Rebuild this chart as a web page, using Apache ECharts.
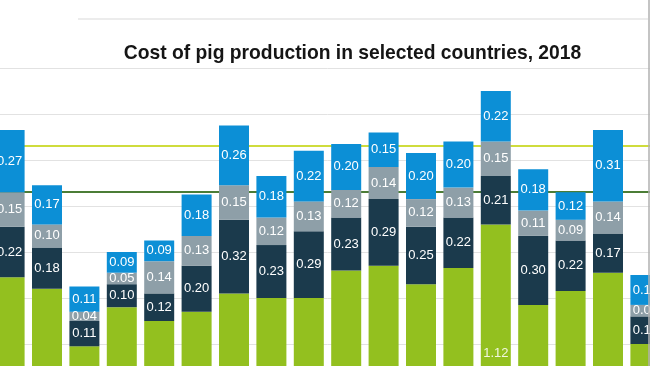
<!DOCTYPE html>
<html><head><meta charset="utf-8">
<script src="https://cdn.jsdelivr.net/npm/echarts@6/dist/echarts.min.js"></script>
<style>
html,body{margin:0;padding:0;width:650px;height:366px;overflow:hidden;background:#fff}
#c{position:absolute;left:-45px;top:0;width:795px;height:560px}
</style>
</head><body><div id="c"></div>
<script>
const categories = ['C01','C02','C03','C04','C05','C06','C07','C08','C09','C10','C11','C12','C13','C14','C15','C16','C17','C18'];
const feedCost = [0.89,0.84,0.59,0.76,0.70,0.74,0.82,0.80,0.80,0.92,0.94,0.86,0.93,1.12,0.77,0.83,0.91,0.60];
const costB    = [0.22,0.18,0.11,0.10,0.12,0.20,0.32,0.23,0.29,0.23,0.29,0.25,0.22,0.21,0.30,0.22,0.17,0.12];
const costC    = [0.15,0.10,0.04,0.05,0.14,0.13,0.15,0.12,0.13,0.12,0.14,0.12,0.13,0.15,0.11,0.09,0.14,0.05];
const costD    = [0.27,0.17,0.11,0.09,0.09,0.18,0.26,0.18,0.22,0.20,0.15,0.20,0.20,0.22,0.18,0.12,0.31,0.13];
const refLevels = [1.46, 1.26];
const yTicks = [0,0.2,0.4,0.6,0.8,1.0,1.2,1.4,1.6,1.8];

const OFFX = -45;
const chart = echarts.init(document.getElementById('c'), null, {renderer:'canvas'});
const font = '"Liberation Sans", Arial, Helvetica, sans-serif';
function seg(name, data, color, labelColor){
  return {
    name, type:'bar', stack:'total', data, barWidth:30, z:10,
    itemStyle:{color},
    label:{show:true, position:'inside', color:labelColor, fontSize:13, fontFamily:font,
      formatter:p=>p.value.toFixed(2)},
    emphasis:{disabled:true}, silent:true
  };
}
chart.setOption({
  animation:false,
  title:{text:'Cost of pig production in selected countries, 2018', left:'center', top:39,
    textStyle:{fontSize:19.3, fontWeight:'bold', color:'#151515', fontFamily:font}},
  grid:{left:35.9, top:68, width:673.2, height:414},
  xAxis:{type:'category', data:categories, axisLine:{show:false}, axisTick:{show:false}, axisLabel:{show:false}},
  yAxis:{type:'value', min:yTicks[0], max:yTicks[yTicks.length-1], interval:0.2,
    axisLabel:{show:false}, axisLine:{show:false}, axisTick:{show:false},
    splitLine:{lineStyle:{color:'#e2e2e2', width:1}}},
  series:[
    {type:'line', data:[], z:1, silent:true,
      markLine:{symbol:'none', silent:true, z:1, label:{show:false},
        data:[
          {yAxis:refLevels[0], lineStyle:{color:'#cfdc3c', width:2, type:'solid'}},
          {yAxis:refLevels[1], lineStyle:{color:'#4b7d36', width:2, type:'solid'}}
        ]}},
    seg('Feed', feedCost, '#93c01f', '#f2f7e0'),
    seg('B', costB, '#1b3a4c', '#ffffff'),
    seg('C', costC, '#8e9fa8', '#ffffff'),
    seg('D', costD, '#0c8fd6', '#ffffff')
  ],
  graphic:[
    {type:'line', shape:{x1:78-OFFX, y1:19, x2:648-OFFX, y2:19}, style:{stroke:'#ececec', lineWidth:2}, silent:true},
    {type:'line', shape:{x1:649-OFFX, y1:0, x2:649-OFFX, y2:560}, style:{stroke:'#b0b0b0', lineWidth:1.5}, silent:true, z:20}
  ]
});
</script>
</body></html>
